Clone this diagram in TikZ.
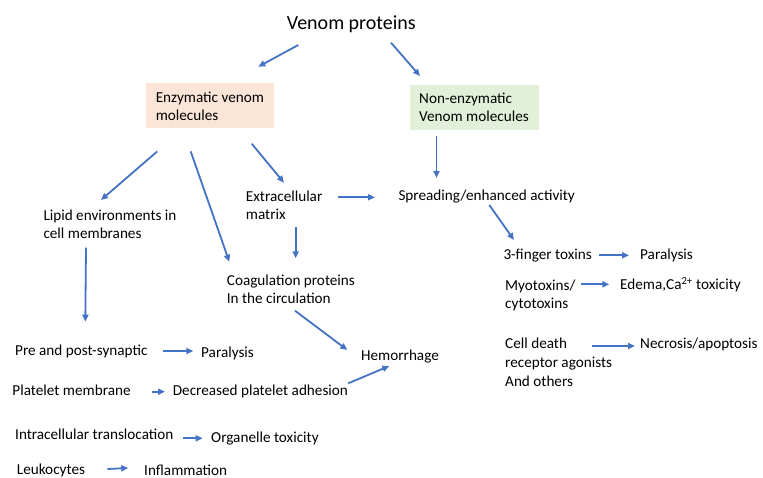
\documentclass[tikz,border=0pt]{standalone}
\usepackage{fontspec}
\setmainfont{Carlito}
\usepackage{xcolor}
\usetikzlibrary{arrows.meta, positioning}
\definecolor{arrowblue}{HTML}{4472C4}
\definecolor{enzfill}{HTML}{FBE5D6}
\definecolor{nonfill}{HTML}{E2F0D9}

\begin{document}
\begin{tikzpicture}[x=1pt, y=-1pt, font=\fontsize{15.2}{18}\selectfont]
\tikzstyle{txt} = [inner sep=0pt, anchor=base west, align=left]
\tikzstyle{box} = [anchor=north west, inner sep=0pt, align=left, minimum height=45pt]
\tikzstyle{arr} = [arrowblue, line width=1.8pt, -{Triangle[length=7pt, width=6pt]}]

\useasboundingbox (0, 0) rectangle (763, 478);

% top level
\node[txt, font=\fontsize{20}{24}\selectfont]	at (286.7, 29.3)	(venom)	{Venom proteins};
\node[box, fill=enzfill, minimum width=127.3pt]	at (146, 83.3)	(enz)	{Enzymatic venom\\molecules};
\node[box, fill=nonfill, minimum width=129pt]	at (409.3, 85)	(nonenz)	{Non-enzymatic\\Venom molecules};

% targets of the enzymatic molecules (base = last line)
\node[txt]	at (43.3, 238.7)	(lipid)		{Lipid environments in\\cell membranes};
\node[txt]	at (245.7, 220)		(ecm)		{Extracellular\\matrix};
\node[txt]	at (226.7, 304)		(coag)		{Coagulation proteins\\In the circulation};
\node[txt]	at (361, 360.7)		(hemo)		{Hemorrhage};
\node[txt]	at (398.3, 200.7)	(spread)	{Spreading/enhanced activity};

% left column
\node[txt]	at (15, 355)		(synapse)	{Pre and post-synaptic};
\node[txt]	at (201, 357.3)		(paralysis1)	{Paralysis};
\node[txt]	at (12.3, 395.7)	(platelet)	{Platelet membrane};
\node[txt]	at (172.7, 395.7)	(adhesion)	{Decreased platelet adhesion};
\node[txt]	at (15, 439)		(intra)		{Intracellular translocation};
\node[txt]	at (211, 442.3)		(organelle)	{Organelle toxicity};
\node[txt]	at (16.7, 474)		(leuko)		{Leukocytes};
\node[txt]	at (144, 475.5)		(inflam)	{Inflammation};

% right column
\node[txt]	at (503.3, 259.3)	(finger)	{3-finger toxins};
\node[txt]	at (640, 259.3)		(paralysis2)	{Paralysis};
\node[txt]	at (505, 308.3)		(myo)		{Myotoxins/\\cytotoxins};
\node[txt]	at (620, 290)		(edema)		{Edema,Ca\textsuperscript{2+} toxicity};
\node[txt, font=\fontsize{15.2}{19.2}\selectfont]	at (505, 386.7)	(death)	{Cell death\\receptor agonists\\And others};
\node[txt]	at (640, 348.3)		(necro)		{Necrosis/apoptosis};

\path[arr]
([shift={(11.6, 15.7)}]venom.base west)	edge	([shift={(112.3, -16.6)}]enz.north west)
([shift={(104.3, 13.4)}]venom.base west)	edge	([shift={(10.7, -9)}]nonenz.north west)
([shift={(27.2, 6)}]nonenz.south west)	edge	([shift={(38.2, -22.7)}]spread.base west)
([shift={(11.3, 22.7)}]enz.south west)	edge	([shift={(57.7, -38.7)}]lipid.base west)
([shift={(44.7, 22.7)}]enz.south west)	edge	([shift={(2.6, -42.3)}]coag.base west)
([shift={(105.7, 15)}]enz.south west)	edge	([shift={(38.3, -37.3)}]ecm.base west)
([shift={(92.6, -22.7)}]ecm.base west)	edge	([shift={(-23.3, -3.4)}]spread.base west)
([shift={(50, 7.3)}]ecm.base west)		edge	([shift={(69, -45.7)}]coag.base west)
([shift={(42.7, 9)}]lipid.base west)	edge	([shift={(70.3, -33.3)}]synapse.base west)
([shift={(68.3, 6.7)}]coag.base west)	edge	([shift={(-13.7, -10.7)}]hemo.base west)
([shift={(175.6, -12.4)}]adhesion.base west)	edge	([shift={(28.3, 5.3)}]hemo.base west)
([shift={(91, 4.3)}]spread.base west)	edge	([shift={(10.7, -19.3)}]finger.base west)
([shift={(148.3, -4)}]synapse.base west)	edge	([shift={(-7.7, -6.3)}]paralysis1.base west)
([shift={(139.4, -4)}]platelet.base west)	edge	([shift={(-7.7, -4)}]adhesion.base west)
([shift={(168.3, -0.7)}]intra.base west)	edge	([shift={(-8.3, -4)}]organelle.base west)
([shift={(90.6, -5)}]leuko.base west)	edge	([shift={(-15.7, -7.5)}]inflam.base west)
([shift={(96, -4)}]finger.base west)	edge	([shift={(-11, -4)}]paralysis2.base west)
([shift={(75.7, -24)}]myo.base west)	edge	([shift={(-10.7, -5.7)}]edema.base west)
([shift={(87.3, -40.7)}]death.base west)	edge	([shift={(-5, -2.3)}]necro.base west);
\end{tikzpicture}
\end{document}
